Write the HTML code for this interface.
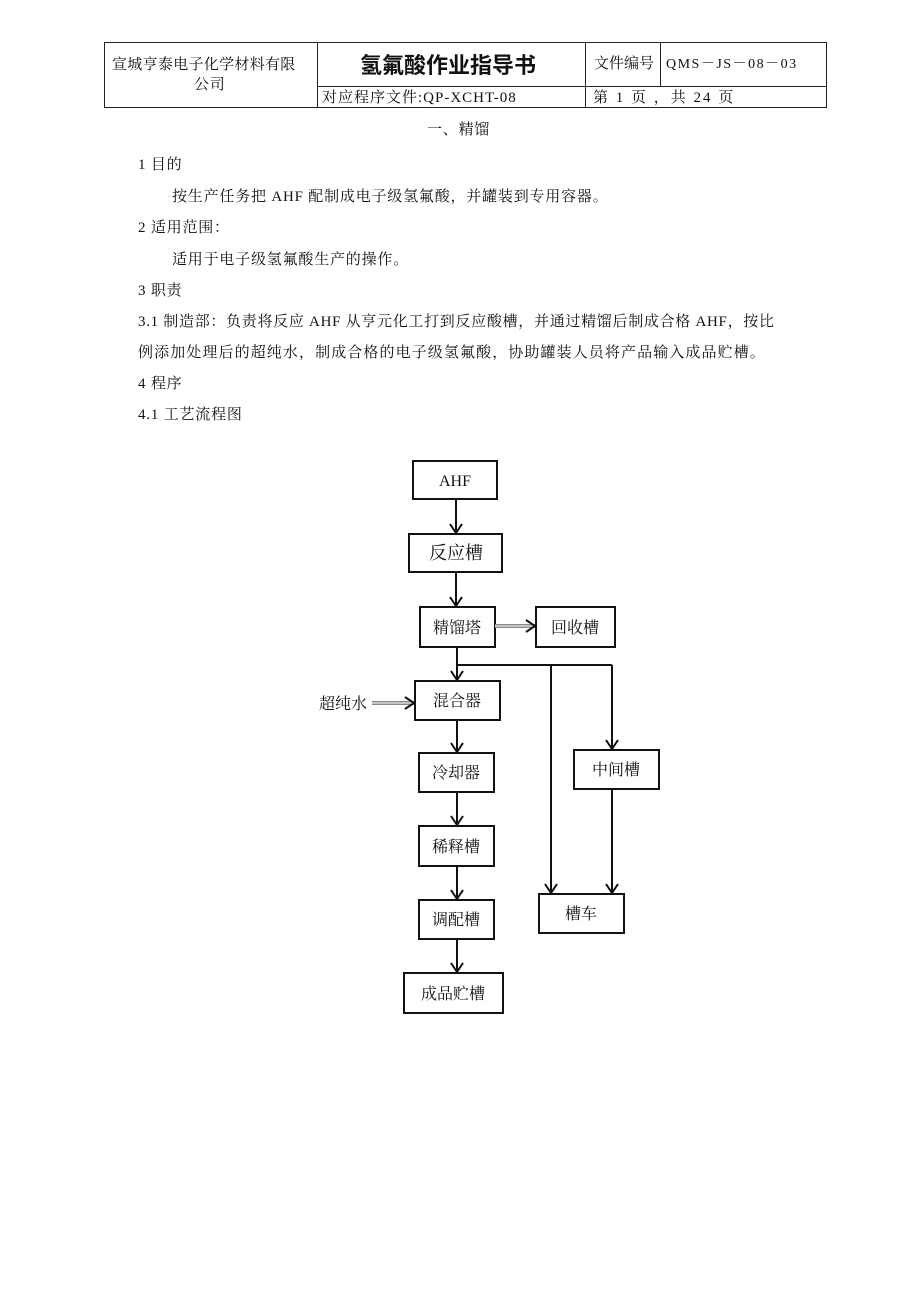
<!DOCTYPE html>
<html><head><meta charset="utf-8"><style>
body{margin:0;background:#fff;width:920px;height:1302px;position:relative;font-family:"Liberation Serif","Noto Serif CJK SC","Noto Sans CJK SC",serif;color:#111}
.t{position:absolute;font-size:15px;white-space:nowrap;line-height:18px;letter-spacing:0.8px}
</style></head><body>
<svg width="920" height="1302" style="position:absolute;left:0;top:0" xmlns="http://www.w3.org/2000/svg">
<g stroke="#222" stroke-width="1" fill="none">
<rect x="104.5" y="42.5" width="722" height="65"/>
<line x1="317.5" y1="42" x2="317.5" y2="107"/>
<line x1="585.5" y1="42" x2="585.5" y2="107"/>
<line x1="660.5" y1="42" x2="660.5" y2="86"/>
<line x1="317" y1="86.5" x2="827" y2="86.5"/>
</g>
<g stroke="#111" stroke-width="2" fill="#fff">
<rect x="413" y="461" width="84" height="38"/>
<rect x="409" y="534" width="93" height="38"/>
<rect x="420" y="607" width="75" height="40"/>
<rect x="536" y="607" width="79" height="40"/>
<rect x="415" y="681" width="85" height="39"/>
<rect x="419" y="753" width="75" height="39"/>
<rect x="574" y="750" width="85" height="39"/>
<rect x="419" y="826" width="75" height="40"/>
<rect x="539" y="894" width="85" height="39"/>
<rect x="419" y="900" width="75" height="39"/>
<rect x="404" y="973" width="99" height="40"/>
</g>
<g stroke="#111" stroke-width="2" fill="none">
<line x1="456" y1="499" x2="456" y2="533"/>
<line x1="456" y1="572" x2="456" y2="606"/>
<line x1="457" y1="647" x2="457" y2="680"/>
<line x1="457" y1="665" x2="612" y2="665"/>
<line x1="551" y1="665" x2="551" y2="893"/>
<line x1="612" y1="665" x2="612" y2="749"/>
<line x1="612" y1="789" x2="612" y2="893"/>
<line x1="457" y1="720" x2="457" y2="752"/>
<line x1="457" y1="792" x2="457" y2="825"/>
<line x1="457" y1="866" x2="457" y2="899"/>
<line x1="457" y1="939" x2="457" y2="972"/>
<line x1="495" y1="626" x2="535" y2="626" stroke="#888" stroke-width="4"/>
<line x1="495" y1="626" x2="535" y2="626" stroke="#fff" stroke-width="1"/>
<line x1="372" y1="703" x2="414" y2="703" stroke="#888" stroke-width="4"/>
<line x1="372" y1="703" x2="414" y2="703" stroke="#fff" stroke-width="1"/>
<polyline points="450,524 456,533 462,524"/>
<polyline points="450,597 456,606 462,597"/>
<polyline points="451,671 457,680 463,671"/>
<polyline points="451,743 457,752 463,743"/>
<polyline points="451,816 457,825 463,816"/>
<polyline points="451,890 457,899 463,890"/>
<polyline points="451,963 457,972 463,963"/>
<polyline points="545,884 551,893 557,884"/>
<polyline points="606,740 612,749 618,740"/>
<polyline points="606,884 612,893 618,884"/>
<polyline points="526,620 535,626 526,632"/>
<polyline points="405,697 414,703 405,709"/>
</g>
<g font-size="16" text-anchor="middle" fill="#111" font-family="Liberation Serif, Noto Serif CJK SC, serif">
<text x="455" y="486">AHF</text>
<text x="456" y="559" font-size="18">反应槽</text>
<text x="457" y="633">精馏塔</text>
<text x="575" y="633">回收槽</text>
<text x="457" y="706">混合器</text>
<text x="456" y="778">冷却器</text>
<text x="616" y="775">中间槽</text>
<text x="456" y="852">稀释槽</text>
<text x="581" y="919">槽车</text>
<text x="456" y="925">调配槽</text>
<text x="453" y="999">成品贮槽</text>
<text x="343" y="709">超纯水</text>
</g>
</svg>
<div class="t" style="left:112px;top:56px;letter-spacing:0.3px">宣城亨泰电子化学材料有限</div>
<div class="t" style="left:194px;top:76px">公司</div>
<div class="t" style="left:360px;top:50px;font-size:22px;font-weight:bold;line-height:28px;font-family:'Noto Sans CJK SC',sans-serif;letter-spacing:0">氢氟酸作业指导书</div>
<div class="t" style="left:594px;top:55px;letter-spacing:0">文件编号</div>
<div class="t" style="left:666px;top:56px;font-size:14px;letter-spacing:1.5px">QMS－JS－08－03</div>
<div class="t" style="left:322px;top:89px;letter-spacing:1px">对应程序文件:QP-XCHT-08</div>
<div class="t" style="left:593px;top:89px;letter-spacing:2px">第 1 页 ，共 24 页</div>
<div class="t" style="left:427px;top:121px">一、精馏</div>
<div class="t" style="left:138px;top:156px">1 目的</div>
<div class="t" style="left:172px;top:188px">按生产任务把 AHF 配制成电子级氢氟酸，并罐装到专用容器。</div>
<div class="t" style="left:138px;top:219px">2 适用范围：</div>
<div class="t" style="left:172px;top:251px">适用于电子级氢氟酸生产的操作。</div>
<div class="t" style="left:138px;top:282px">3 职责</div>
<div class="t" style="left:138px;top:313px;letter-spacing:0.7px">3.1 制造部：负责将反应 AHF 从亨元化工打到反应酸槽，并通过精馏后制成合格 AHF，按比</div>
<div class="t" style="left:138px;top:344px;letter-spacing:1.1px">例添加处理后的超纯水，制成合格的电子级氢氟酸，协助罐装人员将产品输入成品贮槽。</div>
<div class="t" style="left:138px;top:375px">4 程序</div>
<div class="t" style="left:138px;top:406px">4.1 工艺流程图</div>
</body></html>
